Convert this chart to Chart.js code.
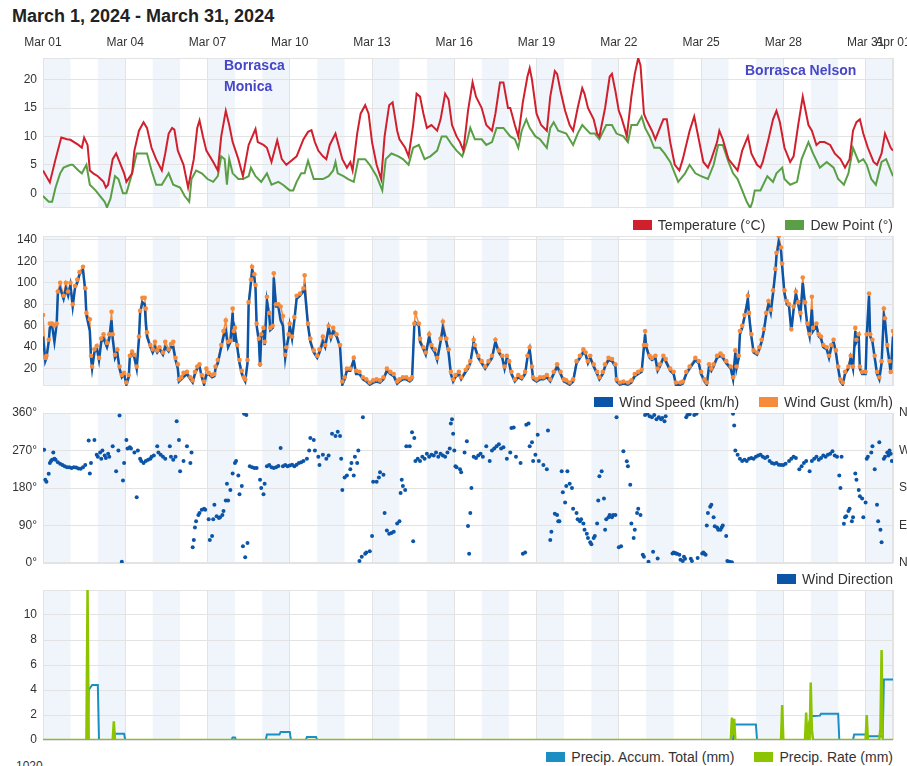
<!DOCTYPE html>
<html>
<head>
<meta charset="utf-8">
<script src="https://cdn.jsdelivr.net/npm/chart.js@4.4.1/dist/chart.umd.min.js"></script>
<style>
  body { margin: 0; width: 907px; height: 766px; overflow: hidden; background: #fff; position: relative;
         font-family: "Liberation Sans", Arial, sans-serif; }
  canvas { position: absolute; left: 0; }
  .title { position: absolute; left: 12px; top: 6px; font-size: 18px; font-weight: bold; color: #222; }
  .note { position: absolute; font-size: 14px; font-weight: bold; color: #4646c8; line-height: 21px; }
  .legend { position: absolute; right: 14px; display: flex; gap: 20px; font-size: 14px; color: #333; line-height: 16px; }
  .legend span { display: flex; align-items: center; }
  .legend i { display: inline-block; width: 19px; height: 10px; margin-right: 6px; }
  .cut { position: absolute; left: 16px; top: 759px; font-size: 12px; color: #333; }
</style>
</head>
<body>
<div class="title">March 1, 2024 - March 31, 2024</div>

<canvas id="tempChart" width="907" height="180" style="top:30px"></canvas>
<canvas id="windChart" width="907" height="160" style="top:230px"></canvas>
<canvas id="dirChart" width="907" height="160" style="top:407px"></canvas>
<canvas id="rainChart" width="907" height="160" style="top:584px"></canvas>

<div class="note" style="left:224px;top:55px">Borrasca<br>Monica</div>
<div class="note" style="left:745px;top:60px">Borrasca Nelson</div>

<div class="legend" style="top:217px"><span><i style="background:#d0202e"></i>Temperature (°C)</span><span><i style="background:#5a9e46"></i>Dew Point (°)</span></div>
<div class="legend" style="top:394px"><span><i style="background:#0b55a8"></i>Wind Speed (km/h)</span><span><i style="background:#f68b3b"></i>Wind Gust (km/h)</span></div>
<div class="legend" style="top:571px"><span><i style="background:#0b55a8"></i>Wind Direction</span></div>
<div class="legend" style="top:749px"><span><i style="background:#1b8fc3"></i>Precip. Accum. Total (mm)</span><span><i style="background:#8cc400"></i>Precip. Rate (mm)</span></div>
<div class="cut">1020</div>

<script>
// x values are hours since Mar 1 00:00
const xTickHours = [0, 72, 144, 216, 288, 360, 432, 504, 576, 648, 720, 744];
const xTickLabels = ["Mar 01", "Mar 04", "Mar 07", "Mar 10", "Mar 13", "Mar 16", "Mar 19", "Mar 22", "Mar 25", "Mar 28", "Mar 31", "Apr 01"];

const tempTicks = [0, 5, 10, 15, 20];
const windTicks = [20, 40, 60, 80, 100, 120, 140];
const dirTicks = [0, 90, 180, 270, 360];
const dirLabels = ["0°", "90°", "180°", "270°", "360°"];
const compassLabels = ["N", "E", "S", "W", "N"];
const rainTicks = [0, 2, 4, 6, 8, 10];

const tempHours = [0,6,11,16,21,24,31,34,36,39, 41,44,48,53,55,57,61,64,67,71,
  73,78,80,84,88,91,95,99,104,107, 110,113,115,118,123,127,132,135,137,140,
  143,149,153,156,160,163,166,171,175,180, 186,188,193,196,200,205,209,213,216,222,
  228,232,235,238,241,245,248,251,256,258, 262,266,269,271,275,278,282,285,288,292,
  296,299,303,306,310,312,317,320,324,327, 330,333,336,340,345,348,352,355,358,362,
  365,368,372,376,379,384,388,393,396,400, 403,407,409,413,416,420,424,426,428,432,
  436,441,444,448,450,453,457,461,464,468, 472,474,477,482,485,487,492,496,498,501,
  504,506,509,511,515,518,521,523,526,528, 533,536,540,543,546,549,553,557,560,566,
  570,574,578,582,585,590,592,595,600,604, 608,612,617,620,625,628,630,635,639,642,
  645,649,654,657,661,665,667,670,673,677, 680,684,689,693,698,702,706,709,712,715,
  718,722,727,730,734,737,739,742,744];
const tempC = [4,1.9,6,9.8,9.5,9.4,8.5,8,9.8,8.5, 4,3.5,3,2,1,1.5,6,7,5.5,3.5,
  2,3.5,7.5,11,12.5,11.5,8,6,4,7, 10.5,11.5,11.2,7.5,5,1,6,11.5,12.8,10,
  7.5,5.5,4,10,14.5,12,9,6,3,8.5, 11.3,9,8.5,8,5.5,9.3,6,5,5.5,6.5,
  9.5,10.8,11.1,9,7.5,6.5,6,8.5,10.5,9, 6,4.5,5.5,4,10.5,14,15.5,14,9,5,
  2.5,10,15.5,16,11,9.5,8,6.5,12,17.5, 17,14,11.5,12,11,13,17.5,16.5,12,10,
  9,7.5,14.5,19.5,17,15,12,11,14,19.5, 19.5,15,15,12,10,16,20.5,22,20,14,
  12,11,17,21.5,21,18,14.5,12,11,15, 18.5,17.5,15,13,10.5,10,15,20.5,21,18,
  14.5,13.5,11.5,10,17,21,23.8,22.5,14,13, 11,9.5,11.5,13,13,9,5,4,6,11,
  13.5,9.5,5.5,4.5,6,9,11,9.5,6,5, 4,7.5,10,7,5,4.5,5.5,9.5,13,14.5,
  12.5,8,5.5,6.5,12,17,15,12,11,8.5, 9,9,8.5,7,6,4.5,6,11,12.5,13,
  10.5,8,5.5,5,7,10.5,9.5,8,7.5];

const dewHours = [0,5,8,11,15,18,24,26,31,34, 38,41,46,50,54,56,59,63,66,70,
  73,78,82,91,95,99,104,110,114,120, 124,128,130,134,139,144,149,153,156,159,
  161,163,166,171,175,180,182,186,191,196, 200,206,210,216,219,222,226,229,232,237,
  241,245,250,254,256,258,263,267,272,276, 282,286,292,297,300,305,311,315,320,324,
  329,334,339,345,349,353,358,362,367,371, 374,378,384,388,393,397,403,409,413,416,
  419,423,426,431,435,441,444,447,451,458, 464,468,472,479,483,487,493,498,502,508,
  512,515,520,524,527,531,535,540,544,549, 553,556,562,566,571,576,582,587,591,595,
  600,604,608,612,616,619,621,623,628,634, 639,642,647,649,654,660,664,670,674,680,
  686,692,696,701,705,709,714,718,721,725, 729,734,738,744];
const dewC = [-0.5,-1.5,-1.5,1,3.5,4.5,5,5,4,3.5, 5,1.5,0.5,-0.5,-1.5,-2.5,-1,3,2.5,0,
  0,3.5,7,7,4,1.5,1.5,3.5,1.5,1, -0.5,-1.5,2.5,4,3.5,2.5,2,3,6.5,6,
  1.5,6,3.5,2.5,2.5,3,4.5,3,2,3.5, 1.5,2,1.5,0.5,0.5,2,3.5,3.5,5.7,2.5,
  2.5,2.5,3,4,5.5,3.5,3,2.5,2,6, 6,5,3,0.5,6,7,6.5,6,5,8,
  8.5,6,6.5,7.5,10,10,8.5,7.5,6.5,9, 11.5,9.5,9.5,8.5,9,11.5,11.5,10,9.5,8,
  11,13,11.5,10,9.5,8,11.5,12.5,11,10.5, 8.5,10.5,12,10.5,10.5,9.5,12,12,10.5,10,
  9,12,12,13.5,11.5,10,8,8,7,5.5, 3.5,2,3.5,5,3.5,3,2.5,5,8.5,8.5,
  5.5,3.5,2.5,0.5,-1.5,-2.6,-1.5,0.5,0.5,3, 2,3.5,4.5,2.5,1.5,2,6,9,7,4.5,
  5.5,4.5,2.5,1.5,3.5,8,5.5,6,5,2.5, 1.5,5.5,6,3];

const windHours = [0,2,3,5,6,8,10,12,13,15, 18,20,22,24,26,28,30,32,35,37,
  38,41,42,43,45,47,49,51,53,56, 58,60,61,63,65,67,69,71,73,75,
  76,78,80,82,84,85,87,89,90,91, 94,96,98,100,102,105,107,110,112,114,
  116,118,119,121,123,126,129,131,133,135, 137,139,141,143,145,148,150,151,153,156,
  158,160,162,164,166,167,168,170,172,174, 176,177,179,180,182,183,185,186,187,189,
  190,191,193,194,196,198,199,201,202,204, 206,208,210,212,213,215,216,218,220,222,
  225,228,229,232,234,237,240,242,245,247, 250,252,254,257,260,262,264,266,269,272,
  274,277,280,283,286,289,292,295,298,301, 304,307,310,312,315,318,321,323,325,326,
  329,330,333,335,338,340,343,345,348,350, 353,355,357,359,361,364,366,370,372,374,
  377,378,381,384,387,390,393,396,399,402, 404,406,408,410,413,416,419,422,424,426,
  428,429,432,435,438,441,444,447,450,453, 456,458,461,464,467,470,473,475,477,479,
  482,485,487,490,492,495,498,501,502,505, 508,512,515,518,521,524,526,527,528,531,
  533,536,538,540,543,545,549,552,554,558, 560,563,566,571,574,576,579,581,583,585,
  587,590,593,595,598,602,604,606,607,609, 610,612,614,617,618,620,622,625,627,629,
  631,633,635,637,639,641,642,644,646,647, 649,651,653,655,657,659,661,663,665,667,
  669,671,673,674,677,679,681,683,686,688, 690,692,694,696,698,700,702,705,707,709,
  711,712,714,715,717,720,721,723,724,726, 728,730,732,734,736,737,739,741,742,744];
const windSpeed = [50,27,30,45,58,60,45,62,90,95, 85,95,88,98,78,95,100,108,112,92,
  70,55,30,20,35,40,28,45,48,40, 48,65,48,30,35,20,12,15,5,12,
  30,35,30,20,48,72,82,80,62,50, 40,35,40,35,38,33,40,36,40,40,
  28,20,8,10,12,15,10,7,15,20, 22,12,5,14,15,12,13,20,25,40,
  50,55,40,45,72,45,55,40,25,15, 10,8,25,80,100,112,105,95,60,45,
  22,50,55,42,83,70,56,58,105,78, 78,65,60,30,38,50,60,48,65,85,
  88,92,95,60,45,35,30,35,45,40, 58,48,55,50,40,5,10,18,18,28,
  15,15,10,8,5,7,8,7,10,18, 15,13,6,8,10,10,8,10,60,63,
  60,45,38,33,50,40,35,28,45,58, 45,35,15,8,12,15,10,17,20,25,
  45,40,30,25,20,25,30,45,35,30, 20,30,25,15,8,12,10,15,30,38,
  20,10,8,10,10,12,8,15,22,15, 8,7,5,8,25,30,35,33,25,30,
  22,15,10,15,22,28,27,22,8,5, 6,5,7,13,15,17,40,52,40,30,
  28,30,18,22,30,27,18,15,5,5, 6,15,20,28,25,15,8,5,22,18,
  22,30,32,30,25,20,10,35,20,30, 52,58,68,85,70,50,35,33,38,45,
  55,70,80,72,90,110,125,138,130,115, 90,80,78,55,75,90,80,70,100,80,
  60,50,75,55,60,50,48,40,38,30, 40,45,35,20,8,5,15,20,30,20,
  55,45,50,20,15,15,50,88,50,45, 30,15,10,25,70,65,40,25,15,50];
const windGust = [70,30,32,47,62,62,60,62,92,100, 88,100,92,100,80,97,103,110,115,95,
  72,66,32,22,38,41,30,48,52,44, 52,73,52,33,38,22,14,16,7,14,
  32,36,33,22,50,74,86,86,76,54, 42,38,45,37,40,35,45,38,43,45,
  30,24,10,12,16,17,12,9,17,22, 24,14,8,20,16,14,15,22,28,42,
  55,65,45,46,76,55,58,42,28,18, 12,10,28,82,103,115,108,98,62,48,
  24,52,58,45,87,72,58,60,109,80, 80,78,69,33,40,52,62,50,68,88,
  90,95,107,62,48,37,32,38,50,42, 60,50,58,52,42,8,12,20,20,30,
  18,17,12,10,7,9,10,9,12,20, 17,15,8,10,12,12,10,12,62,72,
  62,48,40,35,52,42,38,30,48,64, 48,38,17,10,14,17,12,19,22,27,
  47,42,32,27,22,27,32,47,37,32, 22,32,27,17,10,14,12,17,32,40,
  22,12,10,12,12,14,10,17,24,17, 10,9,7,10,27,32,38,35,27,32,
  24,17,12,17,24,30,29,24,10,7, 8,7,9,15,17,19,42,55,42,32,
  30,32,20,24,32,29,20,17,7,7, 8,17,22,30,27,17,10,7,24,20,
  24,32,34,32,27,22,12,37,22,32, 55,60,70,88,72,52,37,35,40,47,
  57,72,83,75,93,113,128,143.7,133,118, 93,83,80,57,78,92,82,72,105,82,
  62,52,87,58,62,52,50,42,40,32, 42,47,37,22,10,7,17,22,32,22,
  58,47,52,22,17,17,52,90,52,47, 32,17,12,27,76,67,42,27,17,55];

const dirHours = [1,2,3,5,6,7,8,9,10,11, 13,15,17,19,21,23,25,27,29,31,
  33,35,37,40,41,42,45,47,48,50, 51,52,54,55,57,58,61,64,66,67,
  69,70,71,73,74,76,77,80,82,83, 85,86,88,90,92,94,95,97,100,101,
  103,105,107,111,112,114,116,117,119,120, 123,126,129,130,131,132,133,134,136,137,
  139,141,142,145,146,148,149,150,152,154, 155,157,158,160,161,162,164,166,168,169,
  171,172,174,175,176,177,178,179,181,183, 185,187,190,191,193,194,196,198,200,202,
  204,206,208,210,212,214,216,218,220,222, 224,226,228,231,233,234,237,238,241,242,
  245,248,250,253,256,258,260,261,262,264, 266,269,270,272,273,275,276,277,279,280,
  282,283,286,288,289,292,294,295,298,299, 301,303,305,307,310,312,313,314,315,317,
  318,321,323,324,325,326,328,330,332,334, 336,338,340,342,344,346,348,350,352,354,
  356,357,358,359,360,361,362,365,366,369, 371,372,373,374,375,377,379,381,383,385,
  388,391,393,395,397,399,401,403,406,409, 410,412,414,418,420,422,423,425,426,428,
  429,431,433,434,438,441,442,444,445,448, 450,451,452,454,455,457,458,459,461,463,
  464,467,468,470,471,473,474,476,477,479, 480,482,483,485,486,487,489,491,492,493,
  495,496,498,499,501,502,504,506,508,511, 512,514,515,517,518,520,521,523,525,526,
  527,529,530,531,533,534,535,537,538,539, 541,542,544,545,551,552,553,554,555,557,
  558,560,561,562,563,564,566,567,568,570, 572,573,577,578,579,580,581,582,584,585,
  587,588,590,591,593,594,595,598,599,601, 603,604,605,606,608,610,612,614,616,618,
  620,622,624,626,628,630,632,634,636,638, 640,642,644,646,648,650,653,655,657,659,
  662,664,666,668,671,673,675,677,679,681, 683,685,687,689,691,693,695,697,698,699,
  701,702,703,705,706,708,709,711,712,714, 715,717,718,720,721,722,725,726,728,730,
  731,732,733,734,736,737,739,740,741,742,743];
const dirDeg = [272,200,195,214,240,245,248,265,250,248, 242,238,235,232,230,230,228,230,229,227,
  226,230,235,294,215,240,295,260,255,265, 250,270,258,252,262,255,280,220,270,354,
  3,198,240,295,275,278,275,265,158,270, 250,245,240,245,248,250,255,258,280,265,
  260,255,250,280,255,248,255,340,295,220, 245,280,240,265,38,55,85,100,115,120,
  128,130,128,105,55,65,105,140,112,108, 110,115,125,150,190,150,175,215,240,245,
  210,165,185,40,358,14,355,48,232,230, 228,228,200,180,165,190,232,235,230,228,
  230,233,276,232,235,232,234,236,232,236, 240,242,245,250,270,300,295,270,255,235,
  260,250,258,310,305,315,305,250,175,205, 210,225,240,210,255,240,270,5,15,350,
  22,25,28,65,195,195,205,218,212,120, 78,70,72,75,95,100,168,200,185,175,
  280,280,314,52,300,245,250,245,255,250, 262,255,260,258,265,255,262,258,255,265,
  275,335,345,310,270,232,230,225,218,265, 292,89,22,120,180,255,252,258,262,255,
  280,245,270,275,280,285,275,278,250,265, 324,325,255,240,22,25,332,335,280,290,
  245,260,308,245,235,225,318,55,75,118, 115,100,100,220,170,145,185,220,190,180,
  130,120,105,100,105,95,80,70,60,50, 45,60,65,95,150,208,220,155,80,105,
  110,115,110,115,115,350,38,40,268,244, 232,188,95,60,80,120,130,115,20,15,
  355,358,3,352,350,27,355,345,11,350, 345,348,340,352,23,25,24,23,22,20,
  8,5,15,10,350,355,357,10,5,355, 358,12,23,25,22,20,90,120,135,140,
  110,88,85,80,80,85,90,65,5,3, 2,358,330,270,260,250,245,248,245,250,
  252,250,255,258,260,255,252,255,245,240, 238,240,236,235,235,238,245,250,255,252,
  225,232,240,245,220,245,250,255,248,252, 258,255,260,262,268,258,255,210,180,255,
  94,110,112,125,130,100,110,215,200,175, 160,155,110,145,250,255,265,280,225,140,
  100,290,80,50,250,255,265,258,270,262,245];

const accumHours = [0,39,40,43,48,49,62,63,71,72, 165,166,168,169,195,196,207,208,216,217,
  230,231,239,240,604,605,624,625,669,671, 672,680,681,696,697,709,710,720,721,735, 736,744];
const accumMm = [0,0,4.0,4.4,4.4,0,0,0.5,0.5,0, 0,0.2,0.2,0,0,0.45,0.45,0.65,0.65,0,
  0,0.25,0.25,0,0,1.25,1.25,0,0,0.8, 1.9,1.95,2.1,2.1,0,0,0.45,0.45,0.3,0.3, 4.85,4.85];
const rateHours = [0,38,39,40,61,62,63,602,603,604, 605,606,646,647,648,667,668,669,670,671,
  672,673,674,720,721,722,732,733,734,735, 744];
const rateMm = [0,0,12,0,0,1.5,0,0,1.8,0.4, 1.7,0,0,2.8,0,0,2.2,0,0.8,0,
  4.6,0.8,0,0,2.0,0,0,0.9,7.2,0, 0];

Chart.defaults.font.family = '"Liberation Sans", Arial, sans-serif';
Chart.defaults.font.size = 12;
Chart.defaults.color = "#333";

function pairs(xs, ys) {
  return xs.map(function (x, i) { return { x: x, y: ys[i] }; });
}

// every other day shaded, plus a light frame round the plot
const dayBands = {
  id: "dayBands",
  beforeDraw: function (chart) {
    var ctx = chart.ctx, a = chart.chartArea, x = chart.scales.x;
    ctx.save();
    ctx.fillStyle = "#eff5fb";
    for (var d = 0; d < 31; d += 2) {
      var x0 = x.getPixelForValue(d * 24), x1 = x.getPixelForValue(d * 24 + 24);
      ctx.fillRect(x0, a.top, x1 - x0, a.bottom - a.top);
    }
    ctx.strokeStyle = "#e3e3e3";
    ctx.lineWidth = 1;
    ctx.strokeRect(a.left + 0.5, a.top + 0.5, a.right - a.left - 1, a.bottom - a.top - 1);
    ctx.restore();
  }
};

function xScale(showLabels) {
  return {
    type: "linear", min: 0, max: 744, position: showLabels ? "top" : "bottom",
    afterBuildTicks: function (s) { s.ticks = xTickHours.map(function (v) { return { value: v }; }); },
    afterFit: function (s) { s.height = showLabels ? 28 : 0; s.paddingLeft = 0; s.paddingRight = 0; },
    grid: { color: "#e3e3e3", drawTicks: false },
    border: { display: false },
    ticks: {
      display: showLabels, autoSkip: false, maxRotation: 0, padding: 8,
      callback: function (v, i) { return xTickLabels[i]; }
    }
  };
}

function yScale(min, max, ticks, labels, side) {
  return {
    type: "linear", min: min, max: max, position: side || "left",
    afterBuildTicks: function (s) { s.ticks = ticks.map(function (v) { return { value: v }; }); },
    afterFit: function (s) { s.width = side === "right" ? 14 : 43; s.paddingTop = 0; s.paddingBottom = 0; },
    grid: { color: "#e3e3e3", drawTicks: false, display: side !== "right" },
    border: { display: false },
    ticks: {
      padding: 6,
      callback: function (v, i) { return labels ? labels[i] : v; }
    }
  };
}

function baseOptions(padTop, padBottom, padRight) {
  return {
    responsive: false, animation: false, events: [], devicePixelRatio: 1,
    layout: { padding: { top: padTop, bottom: padBottom, left: 0, right: padRight } },
    plugins: { legend: { display: false }, tooltip: { enabled: false } },
    elements: { point: { radius: 0 }, line: { tension: 0 } }
  };
}

// temperature / dew point
var tOpts = baseOptions(0, 2, 14);
tOpts.scales = { x: xScale(true), y: yScale(-2.6, 23.8, tempTicks) };
new Chart(document.getElementById("tempChart"), {
  type: "line",
  data: {
    datasets: [
      { label: "Temperature (°C)", data: pairs(tempHours, tempC), borderColor: "#d0202e", borderWidth: 2 },
      { label: "Dew Point (°)", data: pairs(dewHours, dewC), borderColor: "#5a9e46", borderWidth: 2 }
    ]
  },
  options: tOpts,
  plugins: [dayBands]
});

// wind speed / gust
var wOpts = baseOptions(6, 4, 14);
wOpts.scales = { x: xScale(false), y: yScale(3.8, 143.7, windTicks) };
new Chart(document.getElementById("windChart"), {
  type: "line",
  data: {
    datasets: [
      { label: "Wind Gust (km/h)", data: pairs(windHours, windGust), showLine: false,
        pointRadius: 2.3, pointBackgroundColor: "#f68b3b", pointBorderWidth: 0 },
      { label: "Wind Speed (km/h)", data: pairs(windHours, windSpeed), borderColor: "#0b55a8", borderWidth: 2.5 },
      { label: "Wind Gust line", data: pairs(windHours, windGust), borderColor: "#f68b3b", borderWidth: 1.5 }
    ]
  },
  options: wOpts,
  plugins: [dayBands]
});

// wind direction
var dOpts = baseOptions(6, 4, 0);
dOpts.scales = {
  x: xScale(false),
  y: yScale(0, 360, dirTicks, dirLabels),
  y2: yScale(0, 360, dirTicks, compassLabels, "right")
};
new Chart(document.getElementById("dirChart"), {
  type: "scatter",
  data: {
    datasets: [
      { label: "Wind Direction", data: pairs(dirHours, dirDeg), pointRadius: 2,
        pointBackgroundColor: "#0b55a8", pointBorderWidth: 0, showLine: false }
    ]
  },
  options: dOpts,
  plugins: [dayBands]
});

// precipitation
var pOpts = baseOptions(6, 4, 14);
pOpts.scales = { x: xScale(false), y: yScale(0, 12, rainTicks) };
new Chart(document.getElementById("rainChart"), {
  type: "line",
  data: {
    datasets: [
      { label: "Precip. Rate (mm)", data: pairs(rateHours, rateMm), borderColor: "#8cc400", borderWidth: 2.5 },
      { label: "Precip. Accum. Total (mm)", data: pairs(accumHours, accumMm), borderColor: "#1b8fc3", borderWidth: 2 }
    ]
  },
  options: pOpts,
  plugins: [dayBands]
});
</script>
</body>
</html>
